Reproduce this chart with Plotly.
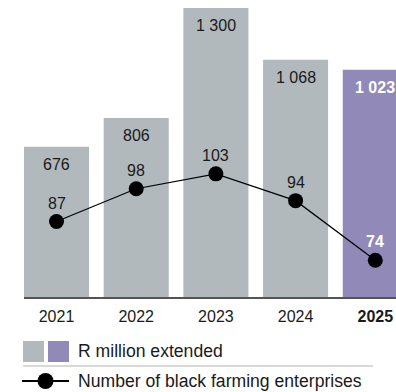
import plotly.graph_objects as go

# Financing data
years = ["2021", "2022", "2023", "2024", "2025"]
rand_million = [676, 806, 1300, 1068, 1023]
enterprises = [87, 98, 103, 94, 74]
year_labels = ["2021", "2022", "2023", "2024", "<b>2025</b>"]

GREY = "#b1b9bd"
PURPLE = "#9189b7"
FONT = "Liberation Sans, Arial, Helvetica, sans-serif"
INK = "#1a1a1a"

W, H = 396, 392
L, R, T, B = 24, 0, 5, 95
plot_w = W - L - R
plot_h = H - T - B


def px(x):
    return (x - L) / plot_w


def py(y):
    return (H - B - y) / plot_h


def fmt(v):
    return f"{v:,}".replace(",", " ")


xs = list(range(len(years)))
last = len(years) - 1
bar_colors = [GREY] * last + [PURPLE]

fig = go.Figure()
fig.add_trace(go.Bar(
    x=xs, y=rand_million, marker=dict(color=bar_colors, line=dict(width=0)),
    width=0.816, hoverinfo="skip", showlegend=False,
))
fig.add_trace(go.Scatter(
    x=xs, y=enterprises, yaxis="y2", mode="lines+markers",
    line=dict(color="black", width=1.2),
    marker=dict(color="black", size=15),
    hoverinfo="skip", showlegend=False,
))

annotations = []
for i, v in enumerate(rand_million):
    annotations.append(dict(
        x=i, y=v, xref="x", yref="y",
        text=f"<b>{fmt(v)}</b>" if i == last else fmt(v), showarrow=False,
        yanchor="middle", yshift=-17.5,
        font=dict(family=FONT, size=16, color="white" if i == last else INK),
    ))
for i, v in enumerate(enterprises):
    annotations.append(dict(
        x=i, y=v, xref="x", yref="y2",
        text=f"<b>{v}</b>" if i == last else str(v), showarrow=False,
        yanchor="middle", yshift=18.5,
        font=dict(family=FONT, size=16, color="white" if i == last else INK),
    ))

# Legend drawn as shapes and text under the chart
annotations.append(dict(
    x=px(76), y=py(351), xref="paper", yref="paper", text="R million extended",
    showarrow=False, xanchor="left", yanchor="middle",
    font=dict(family=FONT, size=17.6, color=INK),
))
annotations.append(dict(
    x=px(76), y=py(381), xref="paper", yref="paper",
    text="Number of black farming enterprises",
    showarrow=False, xanchor="left", yanchor="middle",
    font=dict(family=FONT, size=17.6, color=INK),
))

shapes = [
    dict(type="rect", xref="paper", yref="paper", x0=px(23), x1=px(44),
         y0=py(341), y1=py(362), fillcolor=GREY, line=dict(width=0)),
    dict(type="rect", xref="paper", yref="paper", x0=px(48), x1=px(69),
         y0=py(341), y1=py(362), fillcolor=PURPLE, line=dict(width=0)),
    dict(type="line", xref="paper", yref="paper", x0=px(23), x1=px(373),
         y0=py(366), y1=py(366), line=dict(color="#cccccc", width=1.5)),
    dict(type="line", xref="paper", yref="paper", x0=px(22), x1=px(69),
         y0=py(381), y1=py(381), line=dict(color="black", width=2.2)),
    dict(type="circle", xref="paper", yref="paper", x0=px(37.5), x1=px(53.5),
         y0=py(373), y1=py(389), fillcolor="black", line=dict(width=0)),
]

fig.update_layout(
    width=W, height=H,
    margin=dict(l=L, r=R, t=T, b=B, pad=0),
    paper_bgcolor="white", plot_bgcolor="white",
    bargap=0.184,
    xaxis=dict(
        range=[-0.408, 4.26], tickmode="array", tickvals=xs, ticktext=year_labels,
        showgrid=False, zeroline=False, showline=True, linecolor="#555555",
        linewidth=1.5, ticks="", ticklabelstandoff=4,
        tickfont=dict(family=FONT, size=16, color=INK),
        fixedrange=True,
    ),
    yaxis=dict(range=[0, 1314], visible=False, showgrid=False, zeroline=False),
    yaxis2=dict(range=[61.64, 159.72], overlaying="y", visible=False,
                showgrid=False, zeroline=False),
    annotations=annotations,
    shapes=shapes,
    showlegend=False,
)

fig.write_html("out.html", config={"displayModeBar": False})
